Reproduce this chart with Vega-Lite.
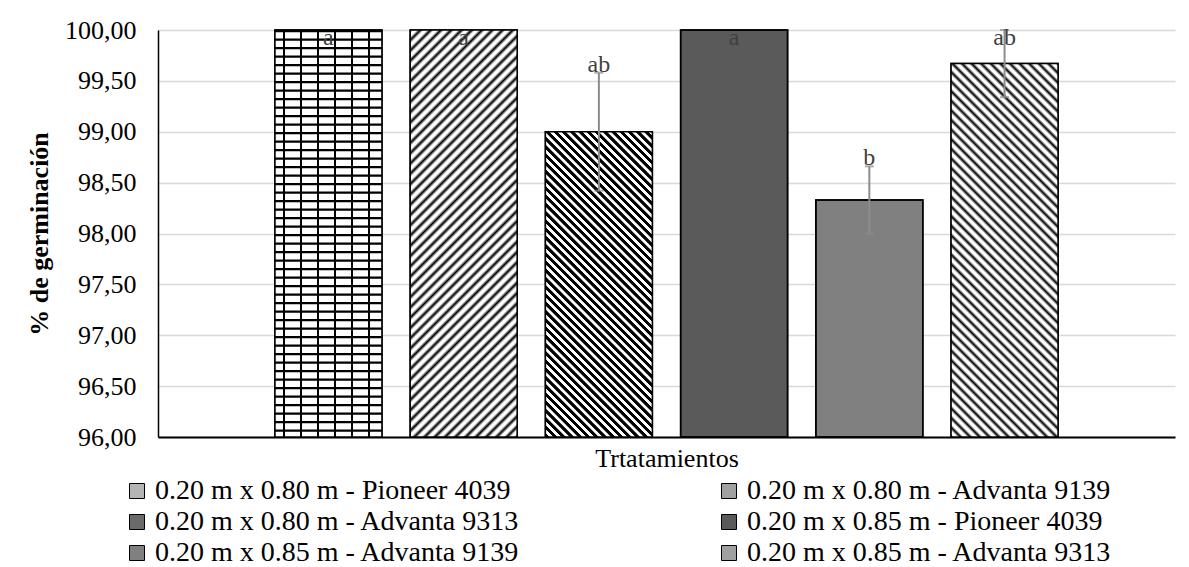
{
  "$schema": "https://vega.github.io/schema/vega-lite/v6.json",
  "width": 1017,
  "height": 407,
  "autosize": {"type": "none"},
  "padding": {"left": 158, "top": 30, "right": 14, "bottom": 130},
  "background": "white",
  "data": {
    "values": [
      {"trat": "0.20 m x 0.80 m - Pioneer 4039", "v": 100, "e": 0, "lab": "a"},
      {"trat": "0.20 m x 0.80 m - Advanta 9139", "v": 100, "e": 0, "lab": "a"},
      {"trat": "0.20 m x 0.80 m - Advanta 9313", "v": 99.0, "e": 0.58, "lab": "ab"},
      {"trat": "0.20 m x 0.85 m - Pioneer 4039", "v": 100, "e": 0, "lab": "a"},
      {"trat": "0.20 m x 0.85 m - Advanta 9139", "v": 98.33, "e": 0.33, "lab": "b"},
      {"trat": "0.20 m x 0.85 m - Advanta 9313", "v": 99.67, "e": 0.33, "lab": "ab"}
    ]
  },
  "encoding": {
    "x": {
      "field": "trat",
      "type": "nominal",
      "sort": null,
      "scale": {"paddingInner": 0.209, "paddingOuter": 0.865},
      "axis": {
        "labels": false,
        "ticks": false,
        "grid": false,
        "title": "Trtatamientos",
        "titleFontSize": 26,
        "titleFontWeight": "normal",
        "titlePadding": 8,
        "domainWidth": 2
      }
    }
  },
  "layer": [
    {
      "mark": {"type": "bar", "stroke": "black", "strokeWidth": 1.5},
      "encoding": {
        "y": {
          "field": "v",
          "type": "quantitative",
          "title": "% de germinación",
          "scale": {"domain": [96, 100], "nice": false, "zero": false},
          "axis": {
            "values": [96, 96.5, 97, 97.5, 98, 98.5, 99, 99.5, 100],
            "labelExpr": "replace(format(datum.value, '.2f'), '.', ',')",
            "labelFontSize": 26,
            "labelPadding": 22,
            "ticks": false,
            "grid": true,
            "titleFontSize": 26,
            "titleFontWeight": "bold",
            "titlePadding": 12
          }
        },
        "y2": {"datum": 96},
        "fill": {
          "field": "trat",
          "type": "nominal",
          "sort": null,
          "title": null,
          "scale": {"range": ["#b4b4b4", "#a0a0a0", "#6a6a6a", "#5a5a5a", "#808080", "#a0a0a0"]},
          "legend": {
            "orient": "none",
            "direction": "horizontal",
            "legendX": -35,
            "legendY": 447,
            "columns": 2,
            "columnPadding": 195,
            "rowPadding": 3,
            "symbolType": "square",
            "symbolSize": 225,
            "symbolStrokeColor": "black",
            "symbolStrokeWidth": 1,
            "labelFont": "Liberation Serif",
            "labelFontSize": 28,
            "labelColor": "black",
            "labelLimit": 0,
            "labelOffset": 4
          }
        }
      }
    },
    {
      "transform": [{"filter": "datum.trat == '0.20 m x 0.80 m - Advanta 9139'"}],
      "mark": {
        "type": "bar",
        "fill": {
          "gradient": "linear", "x1": 0, "y1": 0, "x2": 0.3105, "y2": 1.181,
          "stops": [
            {"offset":0,"color":"#000"},{"offset":0.007,"color":"#fff"},{"offset":0.013,"color":"#fff"},
            {"offset":0.02,"color":"#000"},{"offset":0.027,"color":"#fff"},{"offset":0.033,"color":"#fff"},
            {"offset":0.04,"color":"#000"},{"offset":0.047,"color":"#fff"},{"offset":0.053,"color":"#fff"},
            {"offset":0.06,"color":"#000"},{"offset":0.067,"color":"#fff"},{"offset":0.073,"color":"#fff"},
            {"offset":0.08,"color":"#000"},{"offset":0.087,"color":"#fff"},{"offset":0.093,"color":"#fff"},
            {"offset":0.1,"color":"#000"},{"offset":0.107,"color":"#fff"},{"offset":0.113,"color":"#fff"},
            {"offset":0.12,"color":"#000"},{"offset":0.127,"color":"#fff"},{"offset":0.133,"color":"#fff"},
            {"offset":0.14,"color":"#000"},{"offset":0.147,"color":"#fff"},{"offset":0.153,"color":"#fff"},
            {"offset":0.16,"color":"#000"},{"offset":0.167,"color":"#fff"},{"offset":0.173,"color":"#fff"},
            {"offset":0.18,"color":"#000"},{"offset":0.187,"color":"#fff"},{"offset":0.193,"color":"#fff"},
            {"offset":0.2,"color":"#000"},{"offset":0.207,"color":"#fff"},{"offset":0.213,"color":"#fff"},
            {"offset":0.22,"color":"#000"},{"offset":0.227,"color":"#fff"},{"offset":0.233,"color":"#fff"},
            {"offset":0.24,"color":"#000"},{"offset":0.247,"color":"#fff"},{"offset":0.253,"color":"#fff"},
            {"offset":0.26,"color":"#000"},{"offset":0.267,"color":"#fff"},{"offset":0.273,"color":"#fff"},
            {"offset":0.28,"color":"#000"},{"offset":0.287,"color":"#fff"},{"offset":0.293,"color":"#fff"},
            {"offset":0.3,"color":"#000"},{"offset":0.307,"color":"#fff"},{"offset":0.313,"color":"#fff"},
            {"offset":0.32,"color":"#000"},{"offset":0.327,"color":"#fff"},{"offset":0.333,"color":"#fff"},
            {"offset":0.34,"color":"#000"},{"offset":0.347,"color":"#fff"},{"offset":0.353,"color":"#fff"},
            {"offset":0.36,"color":"#000"},{"offset":0.367,"color":"#fff"},{"offset":0.373,"color":"#fff"},
            {"offset":0.38,"color":"#000"},{"offset":0.387,"color":"#fff"},{"offset":0.393,"color":"#fff"},
            {"offset":0.4,"color":"#000"},{"offset":0.407,"color":"#fff"},{"offset":0.413,"color":"#fff"},
            {"offset":0.42,"color":"#000"},{"offset":0.427,"color":"#fff"},{"offset":0.433,"color":"#fff"},
            {"offset":0.44,"color":"#000"},{"offset":0.447,"color":"#fff"},{"offset":0.453,"color":"#fff"},
            {"offset":0.46,"color":"#000"},{"offset":0.467,"color":"#fff"},{"offset":0.473,"color":"#fff"},
            {"offset":0.48,"color":"#000"},{"offset":0.487,"color":"#fff"},{"offset":0.493,"color":"#fff"},
            {"offset":0.5,"color":"#000"},{"offset":0.507,"color":"#fff"},{"offset":0.513,"color":"#fff"},
            {"offset":0.52,"color":"#000"},{"offset":0.527,"color":"#fff"},{"offset":0.533,"color":"#fff"},
            {"offset":0.54,"color":"#000"},{"offset":0.547,"color":"#fff"},{"offset":0.553,"color":"#fff"},
            {"offset":0.56,"color":"#000"},{"offset":0.567,"color":"#fff"},{"offset":0.573,"color":"#fff"},
            {"offset":0.58,"color":"#000"},{"offset":0.587,"color":"#fff"},{"offset":0.593,"color":"#fff"},
            {"offset":0.6,"color":"#000"},{"offset":0.607,"color":"#fff"},{"offset":0.613,"color":"#fff"},
            {"offset":0.62,"color":"#000"},{"offset":0.627,"color":"#fff"},{"offset":0.633,"color":"#fff"},
            {"offset":0.64,"color":"#000"},{"offset":0.647,"color":"#fff"},{"offset":0.653,"color":"#fff"},
            {"offset":0.66,"color":"#000"},{"offset":0.667,"color":"#fff"},{"offset":0.673,"color":"#fff"},
            {"offset":0.68,"color":"#000"},{"offset":0.687,"color":"#fff"},{"offset":0.693,"color":"#fff"},
            {"offset":0.7,"color":"#000"},{"offset":0.707,"color":"#fff"},{"offset":0.713,"color":"#fff"},
            {"offset":0.72,"color":"#000"},{"offset":0.727,"color":"#fff"},{"offset":0.733,"color":"#fff"},
            {"offset":0.74,"color":"#000"},{"offset":0.747,"color":"#fff"},{"offset":0.753,"color":"#fff"},
            {"offset":0.76,"color":"#000"},{"offset":0.767,"color":"#fff"},{"offset":0.773,"color":"#fff"},
            {"offset":0.78,"color":"#000"},{"offset":0.787,"color":"#fff"},{"offset":0.793,"color":"#fff"},
            {"offset":0.8,"color":"#000"},{"offset":0.807,"color":"#fff"},{"offset":0.813,"color":"#fff"},
            {"offset":0.82,"color":"#000"},{"offset":0.827,"color":"#fff"},{"offset":0.833,"color":"#fff"},
            {"offset":0.84,"color":"#000"},{"offset":0.847,"color":"#fff"},{"offset":0.853,"color":"#fff"},
            {"offset":0.86,"color":"#000"},{"offset":0.867,"color":"#fff"},{"offset":0.873,"color":"#fff"},
            {"offset":0.88,"color":"#000"},{"offset":0.887,"color":"#fff"},{"offset":0.893,"color":"#fff"},
            {"offset":0.9,"color":"#000"},{"offset":0.907,"color":"#fff"},{"offset":0.913,"color":"#fff"},
            {"offset":0.92,"color":"#000"},{"offset":0.927,"color":"#fff"},{"offset":0.933,"color":"#fff"},
            {"offset":0.94,"color":"#000"},{"offset":0.947,"color":"#fff"},{"offset":0.953,"color":"#fff"},
            {"offset":0.96,"color":"#000"},{"offset":0.967,"color":"#fff"},{"offset":0.973,"color":"#fff"},
            {"offset":0.98,"color":"#000"},{"offset":0.987,"color":"#fff"},{"offset":0.993,"color":"#fff"},
            {"offset":1,"color":"#000"}
          ]
        }
      },
      "encoding": {
        "y": {"field": "v", "type": "quantitative", "title": "% de germinación"},
        "y2": {"datum": 96}
      }
    },
    {
      "transform": [{"filter": "datum.trat == '0.20 m x 0.80 m - Advanta 9313'"}],
      "mark": {
        "type": "bar",
        "fill": {
          "gradient": "linear", "x1": 0, "y1": 1, "x2": 0.4215, "y2": -0.2026,
          "stops": [
            {"offset":0,"color":"#000"},{"offset":0.009,"color":"#000"},{"offset":0.0105,"color":"#fff"},{"offset":0.0185,"color":"#fff"},
            {"offset":0.02,"color":"#000"},{"offset":0.029,"color":"#000"},{"offset":0.0305,"color":"#fff"},{"offset":0.0385,"color":"#fff"},
            {"offset":0.04,"color":"#000"},{"offset":0.049,"color":"#000"},{"offset":0.0505,"color":"#fff"},{"offset":0.0585,"color":"#fff"},
            {"offset":0.06,"color":"#000"},{"offset":0.069,"color":"#000"},{"offset":0.0705,"color":"#fff"},{"offset":0.0785,"color":"#fff"},
            {"offset":0.08,"color":"#000"},{"offset":0.089,"color":"#000"},{"offset":0.0905,"color":"#fff"},{"offset":0.0985,"color":"#fff"},
            {"offset":0.1,"color":"#000"},{"offset":0.109,"color":"#000"},{"offset":0.1105,"color":"#fff"},{"offset":0.1185,"color":"#fff"},
            {"offset":0.12,"color":"#000"},{"offset":0.129,"color":"#000"},{"offset":0.1305,"color":"#fff"},{"offset":0.1385,"color":"#fff"},
            {"offset":0.14,"color":"#000"},{"offset":0.149,"color":"#000"},{"offset":0.1505,"color":"#fff"},{"offset":0.1585,"color":"#fff"},
            {"offset":0.16,"color":"#000"},{"offset":0.169,"color":"#000"},{"offset":0.1705,"color":"#fff"},{"offset":0.1785,"color":"#fff"},
            {"offset":0.18,"color":"#000"},{"offset":0.189,"color":"#000"},{"offset":0.1905,"color":"#fff"},{"offset":0.1985,"color":"#fff"},
            {"offset":0.2,"color":"#000"},{"offset":0.209,"color":"#000"},{"offset":0.2105,"color":"#fff"},{"offset":0.2185,"color":"#fff"},
            {"offset":0.22,"color":"#000"},{"offset":0.229,"color":"#000"},{"offset":0.2305,"color":"#fff"},{"offset":0.2385,"color":"#fff"},
            {"offset":0.24,"color":"#000"},{"offset":0.249,"color":"#000"},{"offset":0.2505,"color":"#fff"},{"offset":0.2585,"color":"#fff"},
            {"offset":0.26,"color":"#000"},{"offset":0.269,"color":"#000"},{"offset":0.2705,"color":"#fff"},{"offset":0.2785,"color":"#fff"},
            {"offset":0.28,"color":"#000"},{"offset":0.289,"color":"#000"},{"offset":0.2905,"color":"#fff"},{"offset":0.2985,"color":"#fff"},
            {"offset":0.3,"color":"#000"},{"offset":0.309,"color":"#000"},{"offset":0.3105,"color":"#fff"},{"offset":0.3185,"color":"#fff"},
            {"offset":0.32,"color":"#000"},{"offset":0.329,"color":"#000"},{"offset":0.3305,"color":"#fff"},{"offset":0.3385,"color":"#fff"},
            {"offset":0.34,"color":"#000"},{"offset":0.349,"color":"#000"},{"offset":0.3505,"color":"#fff"},{"offset":0.3585,"color":"#fff"},
            {"offset":0.36,"color":"#000"},{"offset":0.369,"color":"#000"},{"offset":0.3705,"color":"#fff"},{"offset":0.3785,"color":"#fff"},
            {"offset":0.38,"color":"#000"},{"offset":0.389,"color":"#000"},{"offset":0.3905,"color":"#fff"},{"offset":0.3985,"color":"#fff"},
            {"offset":0.4,"color":"#000"},{"offset":0.409,"color":"#000"},{"offset":0.4105,"color":"#fff"},{"offset":0.4185,"color":"#fff"},
            {"offset":0.42,"color":"#000"},{"offset":0.429,"color":"#000"},{"offset":0.4305,"color":"#fff"},{"offset":0.4385,"color":"#fff"},
            {"offset":0.44,"color":"#000"},{"offset":0.449,"color":"#000"},{"offset":0.4505,"color":"#fff"},{"offset":0.4585,"color":"#fff"},
            {"offset":0.46,"color":"#000"},{"offset":0.469,"color":"#000"},{"offset":0.4705,"color":"#fff"},{"offset":0.4785,"color":"#fff"},
            {"offset":0.48,"color":"#000"},{"offset":0.489,"color":"#000"},{"offset":0.4905,"color":"#fff"},{"offset":0.4985,"color":"#fff"},
            {"offset":0.5,"color":"#000"},{"offset":0.509,"color":"#000"},{"offset":0.5105,"color":"#fff"},{"offset":0.5185,"color":"#fff"},
            {"offset":0.52,"color":"#000"},{"offset":0.529,"color":"#000"},{"offset":0.5305,"color":"#fff"},{"offset":0.5385,"color":"#fff"},
            {"offset":0.54,"color":"#000"},{"offset":0.549,"color":"#000"},{"offset":0.5505,"color":"#fff"},{"offset":0.5585,"color":"#fff"},
            {"offset":0.56,"color":"#000"},{"offset":0.569,"color":"#000"},{"offset":0.5705,"color":"#fff"},{"offset":0.5785,"color":"#fff"},
            {"offset":0.58,"color":"#000"},{"offset":0.589,"color":"#000"},{"offset":0.5905,"color":"#fff"},{"offset":0.5985,"color":"#fff"},
            {"offset":0.6,"color":"#000"},{"offset":0.609,"color":"#000"},{"offset":0.6105,"color":"#fff"},{"offset":0.6185,"color":"#fff"},
            {"offset":0.62,"color":"#000"},{"offset":0.629,"color":"#000"},{"offset":0.6305,"color":"#fff"},{"offset":0.6385,"color":"#fff"},
            {"offset":0.64,"color":"#000"},{"offset":0.649,"color":"#000"},{"offset":0.6505,"color":"#fff"},{"offset":0.6585,"color":"#fff"},
            {"offset":0.66,"color":"#000"},{"offset":0.669,"color":"#000"},{"offset":0.6705,"color":"#fff"},{"offset":0.6785,"color":"#fff"},
            {"offset":0.68,"color":"#000"},{"offset":0.689,"color":"#000"},{"offset":0.6905,"color":"#fff"},{"offset":0.6985,"color":"#fff"},
            {"offset":0.7,"color":"#000"},{"offset":0.709,"color":"#000"},{"offset":0.7105,"color":"#fff"},{"offset":0.7185,"color":"#fff"},
            {"offset":0.72,"color":"#000"},{"offset":0.729,"color":"#000"},{"offset":0.7305,"color":"#fff"},{"offset":0.7385,"color":"#fff"},
            {"offset":0.74,"color":"#000"},{"offset":0.749,"color":"#000"},{"offset":0.7505,"color":"#fff"},{"offset":0.7585,"color":"#fff"},
            {"offset":0.76,"color":"#000"},{"offset":0.769,"color":"#000"},{"offset":0.7705,"color":"#fff"},{"offset":0.7785,"color":"#fff"},
            {"offset":0.78,"color":"#000"},{"offset":0.789,"color":"#000"},{"offset":0.7905,"color":"#fff"},{"offset":0.7985,"color":"#fff"},
            {"offset":0.8,"color":"#000"},{"offset":0.809,"color":"#000"},{"offset":0.8105,"color":"#fff"},{"offset":0.8185,"color":"#fff"},
            {"offset":0.82,"color":"#000"},{"offset":0.829,"color":"#000"},{"offset":0.8305,"color":"#fff"},{"offset":0.8385,"color":"#fff"},
            {"offset":0.84,"color":"#000"},{"offset":0.849,"color":"#000"},{"offset":0.8505,"color":"#fff"},{"offset":0.8585,"color":"#fff"},
            {"offset":0.86,"color":"#000"},{"offset":0.869,"color":"#000"},{"offset":0.8705,"color":"#fff"},{"offset":0.8785,"color":"#fff"},
            {"offset":0.88,"color":"#000"},{"offset":0.889,"color":"#000"},{"offset":0.8905,"color":"#fff"},{"offset":0.8985,"color":"#fff"},
            {"offset":0.9,"color":"#000"},{"offset":0.909,"color":"#000"},{"offset":0.9105,"color":"#fff"},{"offset":0.9185,"color":"#fff"},
            {"offset":0.92,"color":"#000"},{"offset":0.929,"color":"#000"},{"offset":0.9305,"color":"#fff"},{"offset":0.9385,"color":"#fff"},
            {"offset":0.94,"color":"#000"},{"offset":0.949,"color":"#000"},{"offset":0.9505,"color":"#fff"},{"offset":0.9585,"color":"#fff"},
            {"offset":0.96,"color":"#000"},{"offset":0.969,"color":"#000"},{"offset":0.9705,"color":"#fff"},{"offset":0.9785,"color":"#fff"},
            {"offset":0.98,"color":"#000"},{"offset":0.989,"color":"#000"},{"offset":0.9905,"color":"#fff"},{"offset":0.9985,"color":"#fff"},
            {"offset":1,"color":"#000"}
          ]
        }
      },
      "encoding": {
        "y": {"field": "v", "type": "quantitative", "title": "% de germinación"},
        "y2": {"datum": 96}
      }
    },
    {
      "transform": [{"filter": "datum.trat == '0.20 m x 0.85 m - Advanta 9313'"}],
      "mark": {
        "type": "bar",
        "fill": {
          "gradient": "linear", "x1": 0, "y1": 1, "x2": 0.3407, "y2": -0.189,
          "stops": [
            {"offset":0,"color":"#000"},{"offset":0.007,"color":"#fff"},{"offset":0.013,"color":"#fff"},
            {"offset":0.02,"color":"#000"},{"offset":0.027,"color":"#fff"},{"offset":0.033,"color":"#fff"},
            {"offset":0.04,"color":"#000"},{"offset":0.047,"color":"#fff"},{"offset":0.053,"color":"#fff"},
            {"offset":0.06,"color":"#000"},{"offset":0.067,"color":"#fff"},{"offset":0.073,"color":"#fff"},
            {"offset":0.08,"color":"#000"},{"offset":0.087,"color":"#fff"},{"offset":0.093,"color":"#fff"},
            {"offset":0.1,"color":"#000"},{"offset":0.107,"color":"#fff"},{"offset":0.113,"color":"#fff"},
            {"offset":0.12,"color":"#000"},{"offset":0.127,"color":"#fff"},{"offset":0.133,"color":"#fff"},
            {"offset":0.14,"color":"#000"},{"offset":0.147,"color":"#fff"},{"offset":0.153,"color":"#fff"},
            {"offset":0.16,"color":"#000"},{"offset":0.167,"color":"#fff"},{"offset":0.173,"color":"#fff"},
            {"offset":0.18,"color":"#000"},{"offset":0.187,"color":"#fff"},{"offset":0.193,"color":"#fff"},
            {"offset":0.2,"color":"#000"},{"offset":0.207,"color":"#fff"},{"offset":0.213,"color":"#fff"},
            {"offset":0.22,"color":"#000"},{"offset":0.227,"color":"#fff"},{"offset":0.233,"color":"#fff"},
            {"offset":0.24,"color":"#000"},{"offset":0.247,"color":"#fff"},{"offset":0.253,"color":"#fff"},
            {"offset":0.26,"color":"#000"},{"offset":0.267,"color":"#fff"},{"offset":0.273,"color":"#fff"},
            {"offset":0.28,"color":"#000"},{"offset":0.287,"color":"#fff"},{"offset":0.293,"color":"#fff"},
            {"offset":0.3,"color":"#000"},{"offset":0.307,"color":"#fff"},{"offset":0.313,"color":"#fff"},
            {"offset":0.32,"color":"#000"},{"offset":0.327,"color":"#fff"},{"offset":0.333,"color":"#fff"},
            {"offset":0.34,"color":"#000"},{"offset":0.347,"color":"#fff"},{"offset":0.353,"color":"#fff"},
            {"offset":0.36,"color":"#000"},{"offset":0.367,"color":"#fff"},{"offset":0.373,"color":"#fff"},
            {"offset":0.38,"color":"#000"},{"offset":0.387,"color":"#fff"},{"offset":0.393,"color":"#fff"},
            {"offset":0.4,"color":"#000"},{"offset":0.407,"color":"#fff"},{"offset":0.413,"color":"#fff"},
            {"offset":0.42,"color":"#000"},{"offset":0.427,"color":"#fff"},{"offset":0.433,"color":"#fff"},
            {"offset":0.44,"color":"#000"},{"offset":0.447,"color":"#fff"},{"offset":0.453,"color":"#fff"},
            {"offset":0.46,"color":"#000"},{"offset":0.467,"color":"#fff"},{"offset":0.473,"color":"#fff"},
            {"offset":0.48,"color":"#000"},{"offset":0.487,"color":"#fff"},{"offset":0.493,"color":"#fff"},
            {"offset":0.5,"color":"#000"},{"offset":0.507,"color":"#fff"},{"offset":0.513,"color":"#fff"},
            {"offset":0.52,"color":"#000"},{"offset":0.527,"color":"#fff"},{"offset":0.533,"color":"#fff"},
            {"offset":0.54,"color":"#000"},{"offset":0.547,"color":"#fff"},{"offset":0.553,"color":"#fff"},
            {"offset":0.56,"color":"#000"},{"offset":0.567,"color":"#fff"},{"offset":0.573,"color":"#fff"},
            {"offset":0.58,"color":"#000"},{"offset":0.587,"color":"#fff"},{"offset":0.593,"color":"#fff"},
            {"offset":0.6,"color":"#000"},{"offset":0.607,"color":"#fff"},{"offset":0.613,"color":"#fff"},
            {"offset":0.62,"color":"#000"},{"offset":0.627,"color":"#fff"},{"offset":0.633,"color":"#fff"},
            {"offset":0.64,"color":"#000"},{"offset":0.647,"color":"#fff"},{"offset":0.653,"color":"#fff"},
            {"offset":0.66,"color":"#000"},{"offset":0.667,"color":"#fff"},{"offset":0.673,"color":"#fff"},
            {"offset":0.68,"color":"#000"},{"offset":0.687,"color":"#fff"},{"offset":0.693,"color":"#fff"},
            {"offset":0.7,"color":"#000"},{"offset":0.707,"color":"#fff"},{"offset":0.713,"color":"#fff"},
            {"offset":0.72,"color":"#000"},{"offset":0.727,"color":"#fff"},{"offset":0.733,"color":"#fff"},
            {"offset":0.74,"color":"#000"},{"offset":0.747,"color":"#fff"},{"offset":0.753,"color":"#fff"},
            {"offset":0.76,"color":"#000"},{"offset":0.767,"color":"#fff"},{"offset":0.773,"color":"#fff"},
            {"offset":0.78,"color":"#000"},{"offset":0.787,"color":"#fff"},{"offset":0.793,"color":"#fff"},
            {"offset":0.8,"color":"#000"},{"offset":0.807,"color":"#fff"},{"offset":0.813,"color":"#fff"},
            {"offset":0.82,"color":"#000"},{"offset":0.827,"color":"#fff"},{"offset":0.833,"color":"#fff"},
            {"offset":0.84,"color":"#000"},{"offset":0.847,"color":"#fff"},{"offset":0.853,"color":"#fff"},
            {"offset":0.86,"color":"#000"},{"offset":0.867,"color":"#fff"},{"offset":0.873,"color":"#fff"},
            {"offset":0.88,"color":"#000"},{"offset":0.887,"color":"#fff"},{"offset":0.893,"color":"#fff"},
            {"offset":0.9,"color":"#000"},{"offset":0.907,"color":"#fff"},{"offset":0.913,"color":"#fff"},
            {"offset":0.92,"color":"#000"},{"offset":0.927,"color":"#fff"},{"offset":0.933,"color":"#fff"},
            {"offset":0.94,"color":"#000"},{"offset":0.947,"color":"#fff"},{"offset":0.953,"color":"#fff"},
            {"offset":0.96,"color":"#000"},{"offset":0.967,"color":"#fff"},{"offset":0.973,"color":"#fff"},
            {"offset":0.98,"color":"#000"},{"offset":0.987,"color":"#fff"},{"offset":0.993,"color":"#fff"},
            {"offset":1,"color":"#000"}
          ]
        }
      },
      "encoding": {
        "y": {"field": "v", "type": "quantitative", "title": "% de germinación"},
        "y2": {"datum": 96}
      }
    },
    {
      "transform": [{"filter": "datum.trat == '0.20 m x 0.80 m - Pioneer 4039'"}],
      "mark": {
        "type": "bar",
        "fill": {
          "gradient": "linear", "x1": 0, "y1": 0, "x2": 1, "y2": 0,
          "stops": [
            {"offset":0,"color":"#fff"},{"offset":0.0748,"color":"#fff"},{"offset":0.0748,"color":"#000"},{"offset":0.0935,"color":"#000"},{"offset":0.0935,"color":"#fff"},
            {"offset":0.2336,"color":"#fff"},{"offset":0.2336,"color":"#000"},{"offset":0.2523,"color":"#000"},{"offset":0.2523,"color":"#fff"},
            {"offset":0.3925,"color":"#fff"},{"offset":0.3925,"color":"#000"},{"offset":0.4112,"color":"#000"},{"offset":0.4112,"color":"#fff"},
            {"offset":0.5514,"color":"#fff"},{"offset":0.5514,"color":"#000"},{"offset":0.5701,"color":"#000"},{"offset":0.5701,"color":"#fff"},
            {"offset":0.7103,"color":"#fff"},{"offset":0.7103,"color":"#000"},{"offset":0.729,"color":"#000"},{"offset":0.729,"color":"#fff"},
            {"offset":0.8692,"color":"#fff"},{"offset":0.8692,"color":"#000"},{"offset":0.8879,"color":"#000"},{"offset":0.8879,"color":"#fff"},
            {"offset":1,"color":"#fff"}
          ]
        }
      },
      "encoding": {
        "y": {"field": "v", "type": "quantitative", "title": "% de germinación"},
        "y2": {"datum": 96}
      }
    },
    {
      "transform": [{"filter": "datum.trat == '0.20 m x 0.80 m - Pioneer 4039'"}],
      "mark": {"type": "rule", "strokeWidth": 107, "strokeDash": [2.2, 6.3], "strokeCap": "butt", "color": "#000"},
      "encoding": {
        "y": {"datum": 100},
        "y2": {"datum": 96}
      }
    },
    {
      "mark": {"type": "bar", "fill": "transparent", "stroke": "black", "strokeWidth": 1.5},
      "encoding": {
        "y": {"field": "v", "type": "quantitative", "title": "% de germinación"},
        "y2": {"datum": 96}
      }
    },
    {
      "transform": [
        {"filter": "datum.e > 0"},
        {"calculate": "datum.v - datum.e", "as": "lo"},
        {"calculate": "datum.v + datum.e", "as": "hi"}
      ],
      "mark": {"type": "errorbar", "ticks": true, "size": 9, "thickness": 2, "color": "#8c8c8c"},
      "encoding": {
        "y": {"field": "lo", "type": "quantitative", "title": "% de germinación"},
        "y2": {"field": "hi"}
      }
    },
    {
      "transform": [
        {"calculate": "min(datum.v + datum.e + 0.08, 99.92)", "as": "laby"}
      ],
      "mark": {"type": "text", "font": "Liberation Serif", "fontSize": 24, "color": "#404040", "baseline": "middle"},
      "encoding": {
        "y": {"field": "laby", "type": "quantitative", "title": "% de germinación"},
        "text": {"field": "lab"}
      }
    }
  ],
  "config": {
    "view": {"stroke": null},
    "font": "Liberation Serif",
    "axis": {
      "labelFont": "Liberation Serif",
      "titleFont": "Liberation Serif",
      "labelColor": "black",
      "titleColor": "black",
      "gridColor": "#d9d9d9",
      "gridWidth": 1.5,
      "domainColor": "black",
      "domainWidth": 1.5
    }
  }
}
